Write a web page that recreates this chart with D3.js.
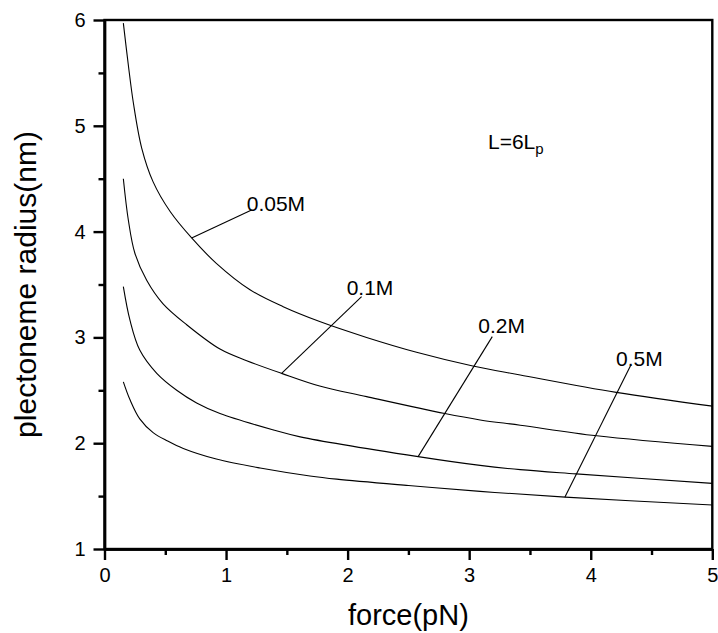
<!DOCTYPE html>
<html>
<head>
<meta charset="utf-8">
<script src="https://cdn.jsdelivr.net/npm/d3@7"></script>
<style>
  html, body { margin: 0; padding: 0; background: #fff; color: #000; }
  svg { display: block; color: #000; }
  text { font-family: "Liberation Sans", Arial, Helvetica, sans-serif; fill: #000; }
</style>
</head>
<body>
<svg id="chart" width="718" height="633"></svg>
<script>
// ---- data ----
const xTicks = [0, 1, 2, 3, 4, 5];
const xMinorTicks = [0.5, 1.5, 2.5, 3.5, 4.5];
const yTicks = [1, 2, 3, 4, 5, 6];
const yMinorTicks = [1.5, 2.5, 3.5, 4.5, 5.5];

const seriesNames = ["0.05M", "0.1M", "0.2M", "0.5M"];

const curve005 = [[0.155,5.97],[0.196,5.575],[0.237,5.22],[0.306,4.79],[0.40,4.47],[0.54,4.19],[0.717,3.94],[0.92,3.70],[1.197,3.45],[1.47,3.29],[1.77,3.15],[2.156,3.00],[2.567,2.86],[3.03,2.73],[3.42,2.645],[4.21,2.48],[5.0,2.35]];
const curve01 = [[0.155,4.50],[0.196,4.11],[0.25,3.795],[0.347,3.54],[0.48,3.32],[0.676,3.12],[0.95,2.89],[1.17,2.78],[1.457,2.66],[1.77,2.54],[2.156,2.44],[2.80,2.28],[3.09,2.22],[3.42,2.17],[4.05,2.07],[5.0,1.97]];
const curve02 = [[0.155,3.48],[0.21,3.16],[0.29,2.88],[0.43,2.66],[0.594,2.50],[0.758,2.38],[0.95,2.28],[1.39,2.125],[1.61,2.06],[2.58,1.873],[3.09,1.79],[3.42,1.75],[3.88,1.71],[5.0,1.62]];
const curve05 = [[0.155,2.58],[0.21,2.41],[0.29,2.23],[0.40,2.10],[0.52,2.02],[0.648,1.95],[0.92,1.85],[1.28,1.765],[1.69,1.69],[1.91,1.66],[2.5,1.60],[3.09,1.545],[3.79,1.49],[5.0,1.416]];

// label annotations (data coordinates)
const leaderFrom = [[0.717,3.94],[1.457,2.66],[2.58,1.873],[3.787,1.49]];
const leaderTo   = [[1.21,4.205],[2.115,3.385],[3.19,3.007],[4.33,2.74]];
const labelAt    = [[1.170,4.195],[1.992,3.401],[3.075,3.039],[4.208,2.733]];

// ---- chart ----
const svg = d3.select("#chart");
const x = d3.scaleLinear().domain([0, 5]).range([104.5, 712.3]);
const y = d3.scaleLinear().domain([1, 6]).range([549, 20]);

const FONT = '"Liberation Sans", Arial, Helvetica, sans-serif';

// plot frame
svg.append("rect")
  .attr("x", x(0)).attr("y", y(6))
  .attr("width", x(5) - x(0)).attr("height", y(1) - y(6))
  .attr("fill", "none").attr("stroke", "#000").attr("stroke-width", 2.4);

// curves
const line = d3.line().x(d => x(d[0])).y(d => y(d[1])).curve(d3.curveCatmullRom.alpha(0.5));
[curve005, curve01, curve02, curve05].forEach(c => {
  svg.append("path").datum(c).attr("d", line)
    .attr("fill", "none").attr("stroke", "#000").attr("stroke-width", 1.1);
});

// leaders and labels
seriesNames.forEach((name, i) => {
  svg.append("line")
    .attr("x1", x(leaderFrom[i][0])).attr("y1", y(leaderFrom[i][1]))
    .attr("x2", x(leaderTo[i][0])).attr("y2", y(leaderTo[i][1]))
    .attr("stroke", "#000").attr("stroke-width", 1.1);
  svg.append("text")
    .attr("x", x(labelAt[i][0])).attr("y", y(labelAt[i][1]))
    .attr("font-size", 21).text(name);
});

// L=6Lp
const lt = svg.append("text").attr("x", 488).attr("y", 149).attr("font-size", 21);
lt.append("tspan").text("L=6L");
lt.append("tspan").attr("font-size", 15).attr("dy", 5).text("p");

// axes
function styleAxis(g) {
  g.selectAll("path.domain").attr("stroke", "#000").attr("stroke-width", 2.4);
  g.selectAll(".tick line").attr("stroke", "#000").attr("stroke-width", 2.4);
  g.selectAll(".tick text").attr("font-family", FONT).attr("font-size", 20).attr("fill", "#000");
}

const xAxisMinor = svg.append("g").attr("transform", `translate(0,${y(1)})`)
  .call(d3.axisBottom(x).tickValues(xMinorTicks).tickSizeInner(6).tickSizeOuter(0).tickFormat(""));
styleAxis(xAxisMinor);
const xAxis = svg.append("g").attr("transform", `translate(0,${y(1)})`)
  .call(d3.axisBottom(x).tickValues(xTicks).tickSizeInner(11).tickSizeOuter(0).tickPadding(8).tickFormat(d3.format("d")));
styleAxis(xAxis);

const yAxisMinor = svg.append("g").attr("transform", `translate(${x(0)},0)`)
  .call(d3.axisLeft(y).tickValues(yMinorTicks).tickSizeInner(6).tickSizeOuter(0).tickFormat(""));
styleAxis(yAxisMinor);
const yAxis = svg.append("g").attr("transform", `translate(${x(0)},0)`)
  .call(d3.axisLeft(y).tickValues(yTicks).tickSizeInner(11).tickSizeOuter(0).tickPadding(8).tickFormat(d3.format("d")));
styleAxis(yAxis);

// titles
svg.append("text").attr("x", (x(0) + x(5)) / 2).attr("y", 625)
  .attr("text-anchor", "middle").attr("font-size", 29).text("force(pN)");
svg.append("text").attr("transform", `translate(36,${(y(1) + y(6)) / 2}) rotate(-90)`)
  .attr("text-anchor", "middle").attr("font-size", 30).text("plectoneme radius(nm)");
</script>
</body>
</html>
